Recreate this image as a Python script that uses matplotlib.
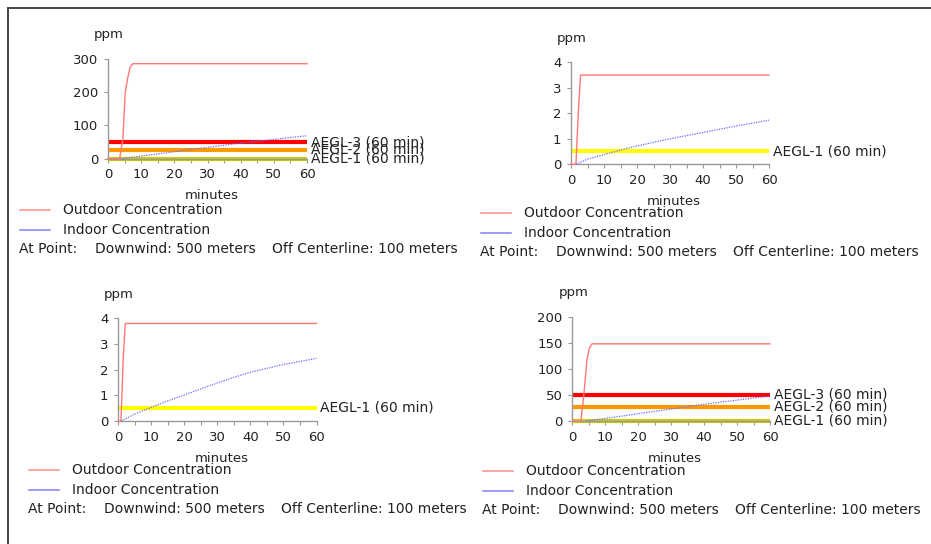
import matplotlib
matplotlib.use("Agg")
import matplotlib.pyplot as plt
from matplotlib.lines import Line2D
from matplotlib.ticker import MultipleLocator

W, H = 931, 544

# hydrogen sulfide AEGL levels (60 min), ppm
aegl_names = ["AEGL-1 (60 min)", "AEGL-2 (60 min)", "AEGL-3 (60 min)"]
aegl_values = [0.51, 27, 50]

# top-left panel
t1_out = [0, 3.5, 4.5, 5.2, 6.0, 6.7, 7.5, 60]
c1_out = [0, 0, 60, 200, 245, 275, 285, 285]
t1_in = [4, 10, 20, 30, 40, 50, 60]
c1_in = [0, 8, 21, 34, 47, 58, 69]

# top-right panel
t2_out = [0, 1.5, 2.2, 2.9, 60]
c2_out = [0, 0, 2.0, 3.5, 3.5]
t2_in = [1.5, 5, 10, 15, 20, 30, 40, 50, 60]
c2_in = [0, 0.2, 0.38, 0.56, 0.72, 1.0, 1.25, 1.5, 1.73]

# bottom-left panel
t3_out = [0, 0.9, 1.6, 2.2, 60]
c3_out = [0, 0, 2.5, 3.8, 3.8]
t3_in = [1, 5, 10, 15, 20, 25, 30, 35, 40, 45, 50, 55, 60]
c3_in = [0, 0.27, 0.53, 0.78, 1.01, 1.25, 1.48, 1.7, 1.9, 2.05, 2.2, 2.32, 2.44]

# bottom-right panel
t4_out = [0, 2.6, 3.5, 4.5, 5.2, 6.0, 60]
c4_out = [0, 0, 50, 120, 140, 148, 148]
t4_in = [4.4, 10, 20, 30, 40, 50, 60]
c4_in = [0, 5, 14, 23, 32, 40, 48]

legend_labels = ["Outdoor Concentration", "Indoor Concentration"]
point_texts = ["At Point:", "Downwind: 500 meters", "Off Centerline: 100 meters"]

FS = 9.5      # ticks, axis titles
FS_T = 10     # legend / threshold labels
TXT = "#222222"
AXC = "#999999"
aegl_colors = ["#ffff00", "#ff9900", "#ff0000"]

fig = plt.figure(figsize=(W / 100, H / 100), dpi=100)
fig.patch.set_facecolor("white")


def fx(x):
    return x / W


def fy(y):
    return 1 - y / H


def panel(box, t_out, c_out, t_in, c_in, ymax, ystep, n_aegl, aegl1_color, leg):
    left, top, right, bottom = box
    ax = fig.add_axes([fx(left), fy(bottom), (right - left) / W, (bottom - top) / H])
    ax.set_xlim(0, 60)
    ax.set_ylim(0, ymax)
    for s in ["top", "right"]:
        ax.spines[s].set_visible(False)
    for s in ["left", "bottom"]:
        ax.spines[s].set_color(AXC)
        ax.spines[s].set_linewidth(1)
    ax.xaxis.set_major_locator(MultipleLocator(10))
    ax.xaxis.set_minor_locator(MultipleLocator(5))
    ax.yaxis.set_major_locator(MultipleLocator(ystep))
    ax.tick_params(axis="both", which="major", length=3, width=0.8, color=AXC,
                   labelsize=FS, labelcolor=TXT, pad=4)
    ax.tick_params(axis="x", which="minor", length=3, width=0.8, color=AXC)
    ax.patch.set_alpha(0)

    # AEGL threshold lines (labels overlap on the big-scale panels, as in the source)
    for i in range(n_aegl):
        col = aegl1_color if i == 0 else aegl_colors[i]
        ax.plot([0, 60], [aegl_values[i]] * 2, color=col, lw=3, solid_capstyle="butt",
                clip_on=False, zorder=2)
        ax.text(61.2, aegl_values[i], aegl_names[i], fontsize=FS_T, color=TXT,
                va="center", ha="left", clip_on=False)

    ax.plot(t_out, c_out, color="#ff7878", lw=1, zorder=3, clip_on=False)
    ax.plot(t_in, c_in, color="#6a6aff", lw=0.9, ls=(0, (1, 1)), zorder=3, clip_on=False)

    fig.text(fx(left + 1), fy(top - 24), "ppm", fontsize=FS, color=TXT, ha="center", va="center")
    fig.text(fx((left + right) / 2 + 4), fy(bottom + 37), "minutes", fontsize=FS, color=TXT,
             ha="center", va="center")

    lx, ly = leg
    colors = ["#ff8c8c", "#8080ff"]
    for k in range(2):
        fig.add_artist(Line2D([fx(lx), fx(lx + 30)], [fy(ly + 20 * k)] * 2,
                              color=colors[k], lw=1.1))
        fig.text(fx(lx + 43), fy(ly + 20 * k), legend_labels[k], fontsize=FS_T, color=TXT,
                 va="center")
    offs = [0, 76, 253]
    for k in range(3):
        fig.text(fx(lx - 1 + offs[k]), fy(ly + 39), point_texts[k], fontsize=FS_T, color=TXT,
                 va="center")
    return ax


panel((108, 58.7, 307, 158.7), t1_out, c1_out, t1_in, c1_in, 300, 100, 3, "#cccc00", (20, 210))
panel((571, 62.3, 769, 164.3), t2_out, c2_out, t2_in, c2_in, 4, 1, 1, "#ffff00", (481, 213))
panel((118, 318.3, 316.5, 421), t3_out, c3_out, t3_in, c3_in, 4, 1, 1, "#ffff00", (29, 470))
panel((572.3, 316.7, 770, 421), t4_out, c4_out, t4_in, c4_in, 200, 50, 3, "#cccc00", (483, 471))

# outer frame edges
fig.add_artist(Line2D([fx(7.5), 1], [fy(8), fy(8)], color="#444444", lw=1.4))
fig.add_artist(Line2D([fx(7.5), fx(7.5)], [fy(8), 0], color="#444444", lw=1.4))

fig.savefig("out.png", dpi=100)
